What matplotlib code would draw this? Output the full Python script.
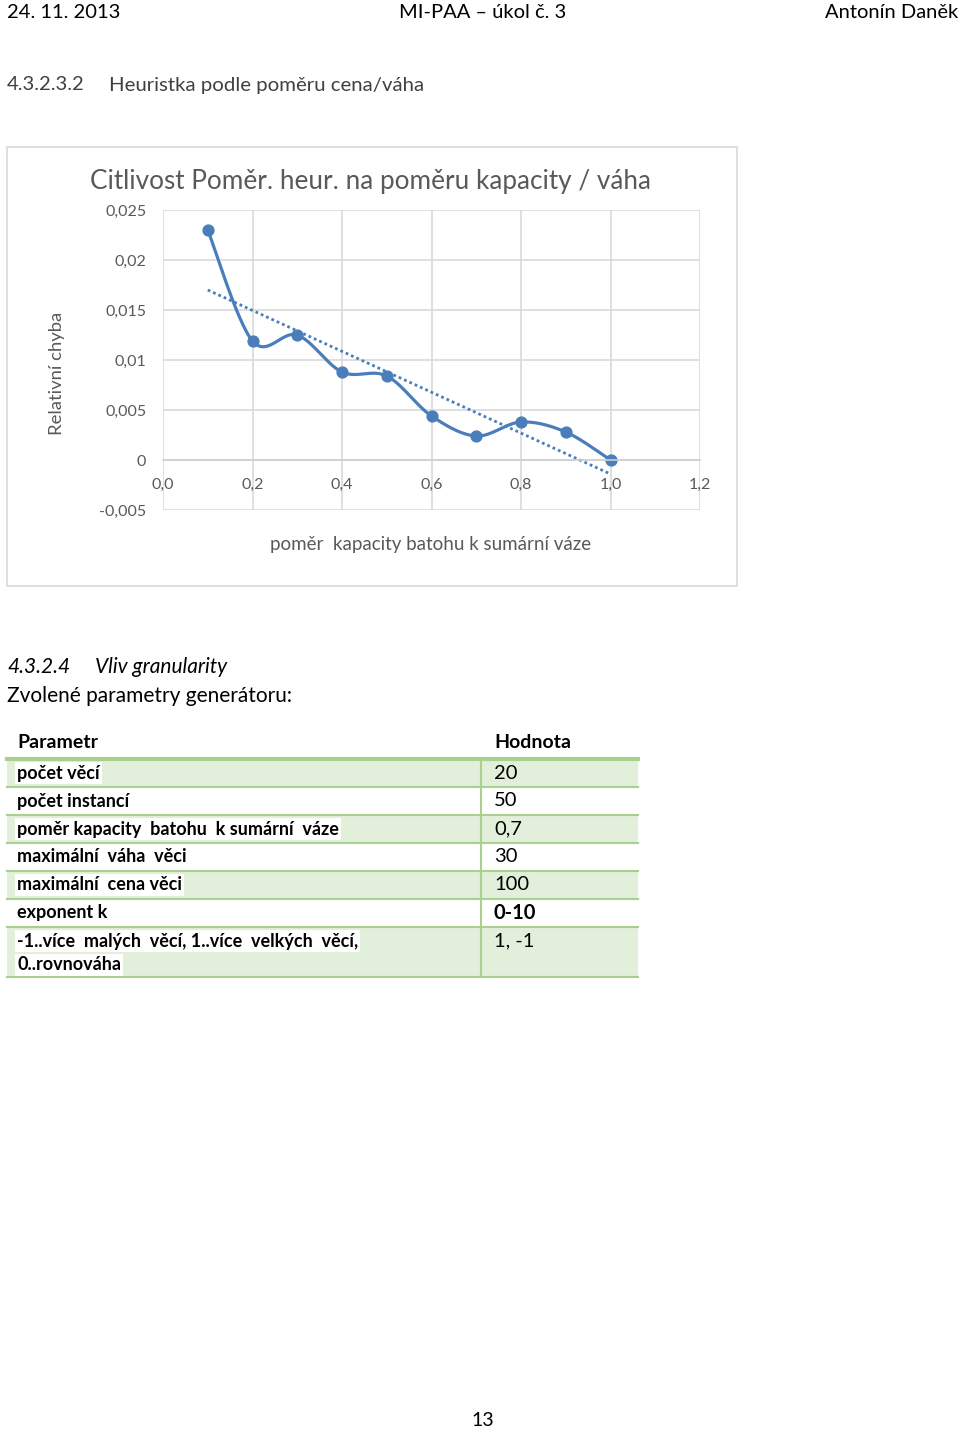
import numpy as np
import matplotlib
matplotlib.use('Agg')
import matplotlib.pyplot as plt
from matplotlib.patches import Rectangle

plt.rcParams['font.family'] = ['Lato', 'DejaVu Sans']

W, H = 960, 1431

# data
ratio = [0.1, 0.2, 0.3, 0.4, 0.5, 0.6, 0.7, 0.8, 0.9, 1.0]
rel_err = [0.0230, 0.0119, 0.0125, 0.0088, 0.0084, 0.0044, 0.0024, 0.0038, 0.0028, 0.0]

x_ticks = [0.0, 0.2, 0.4, 0.6, 0.8, 1.0, 1.2]
y_ticks = [-0.005, 0, 0.005, 0.01, 0.015, 0.02, 0.025]
y_tick_labels = ['-0,005', '0', '0,005', '0,01', '0,015', '0,02', '0,025']

params = ['počet věcí', 'počet instancí', 'poměr kapacity  batohu  k sumární  váze',
          'maximální  váha  věci', 'maximální  cena věci', 'exponent k',
          '-1..více  malých  věcí, 1..více  velkých  věcí,', '0..rovnováha']
values = ['20', '50', '0,7', '30', '100', '0-10', '1, -1']


def fx(x):
    return x / W


def fy(y):
    return 1 - y / H


def smooth(xs, ys, n=30):
    # bezier smoothing like excel (catmull-rom control points)
    p = np.column_stack([xs, ys])
    p = np.vstack([p[0], p, p[-1]])
    out = []
    for i in range(1, len(p) - 2):
        p0, p1, p2, p3 = p[i - 1], p[i], p[i + 1], p[i + 2]
        c1 = p1 + (p2 - p0) / 6
        c2 = p2 - (p3 - p1) / 6
        t = np.linspace(0, 1, n)[:, None]
        seg = (1 - t) ** 3 * p1 + 3 * (1 - t) ** 2 * t * c1 + 3 * (1 - t) * t ** 2 * c2 + t ** 3 * p2
        out.append(seg)
    out = np.vstack(out)
    return out[:, 0], out[:, 1]


fig = plt.figure(figsize=(W / 100, H / 100), dpi=100)
fig.patch.set_facecolor('white')

# page header
fig.text(fx(7), fy(12), '24. 11. 2013', fontsize=14.5, va='center', ha='left')
fig.text(fx(483), fy(12), 'MI-PAA – úkol č. 3', fontsize=14.5, va='center', ha='center')
fig.text(fx(958), fy(12), 'Antonín Daněk', fontsize=14.5, va='center', ha='right')

fig.text(fx(7), fy(85), '4.3.2.3.2', fontsize=14.5, va='center', ha='left', color='#404040')
fig.text(fx(109), fy(85), 'Heuristka podle poměru cena/váha', fontsize=14.7, va='center', ha='left', color='#404040')

# chart frame
fig.patches.append(Rectangle((fx(7), fy(586)), fx(730), 439 / H, transform=fig.transFigure,
                             facecolor='white', edgecolor='#d9d9d9', lw=1.2, zorder=-5))
fig.text(fx(371), fy(181), 'Citlivost Poměr. heur. na poměru kapacity / váha', fontsize=18.8,
         va='center', ha='center', color='#595959')

ax = fig.add_axes([fx(163), fy(510), 537 / W, 300 / H])
ax.set_zorder(2)
ax.patch.set_alpha(0)
ax.set_xlim(0, 1.2)
ax.set_ylim(-0.005, 0.025)
ax.set_xticks(x_ticks)
ax.set_xticklabels([('%.1f' % v).replace('.', ',') for v in x_ticks])
ax.set_yticks(y_ticks)
ax.set_yticklabels(y_tick_labels)
ax.grid(True, color='#d9d9d9', lw=1.2)
ax.set_axisbelow(True)
for s in ['top', 'right', 'left']:
    ax.spines[s].set_visible(False)
ax.spines['bottom'].set_position(('data', 0))
ax.spines['bottom'].set_color('#d0d0d0')
ax.spines['bottom'].set_linewidth(1.2)
ax.tick_params(length=0, labelsize=11.5, labelcolor='#595959')
ax.tick_params(axis='x', pad=13)
ax.tick_params(axis='y', pad=12)

sx, sy = smooth(ratio, rel_err)
ax.plot(sx, sy, color='#4a7ebb', lw=2.3, solid_capstyle='round')
ax.plot(ratio, rel_err, 'o', color='#4a7ebb', ms=7.8)

k, q = np.polyfit(ratio, rel_err, 1)
tx = np.array([ratio[0], ratio[-1]])
ax.plot(tx, k * tx + q, color='#4a7ebb', lw=2, ls=(0, (1, 1.1)))

fig.text(fx(57), fy(373), 'Relativní chyba', rotation=90, fontsize=13.3, va='center', ha='center', color='#595959')
fig.text(fx(431), fy(545), 'poměr  kapacity batohu k sumární váze', fontsize=13.5, va='center', ha='center',
         color='#595959')

# section below
fig.text(fx(7), fy(667), '4.3.2.4', fontsize=15, style='italic', va='center', ha='left')
fig.text(fx(95), fy(667), 'Vliv granularity', fontsize=15, style='italic', va='center', ha='left')
fig.text(fx(7), fy(696), 'Zvolené parametry generátoru:', fontsize=15, va='center', ha='left')

# table
green_fill = '#e2efda'
green_line = '#a9d08e'
fig.text(fx(17), fy(742), 'Parametr', fontsize=14, weight='bold', va='center', ha='left')
fig.text(fx(494), fy(742), 'Hodnota', fontsize=14, weight='bold', va='center', ha='left')
row_y = [759, 787, 815, 843, 871, 899, 927, 977]
for i in range(len(values)):
    top, bot = row_y[i], row_y[i + 1]
    if i % 2 == 0:
        fig.patches.append(Rectangle((fx(7), fy(bot)), fx(631), (bot - top) / H, transform=fig.transFigure,
                                     facecolor=green_fill, edgecolor='none'))
    fig.add_artist(plt.Line2D([fx(7), fx(638)], [fy(bot), fy(bot)], color=green_line, lw=1.5))
    bb = dict(facecolor='white', edgecolor='none', pad=1.5) if i % 2 == 0 else None
    fig.text(fx(17), fy(top + 14), params[i], fontsize=13, weight='bold', va='center', ha='left', bbox=bb)
    fig.text(fx(494), fy(top + 14), values[i], fontsize=14.5, va='center', ha='left',
             weight='bold' if values[i] == '0-10' else 'normal')
fig.text(fx(17), fy(965), params[7], fontsize=13, weight='bold', va='center', ha='left',
         bbox=dict(facecolor='white', edgecolor='none', pad=1.5))
fig.add_artist(plt.Line2D([fx(7), fx(638)], [fy(759), fy(759)], color=green_line, lw=3))
fig.add_artist(plt.Line2D([fx(481), fx(481)], [fy(759), fy(977)], color=green_line, lw=1.5))

fig.text(fx(483), fy(1420), '13', fontsize=14, va='center', ha='center')

fig.savefig('out.png', dpi=100)
